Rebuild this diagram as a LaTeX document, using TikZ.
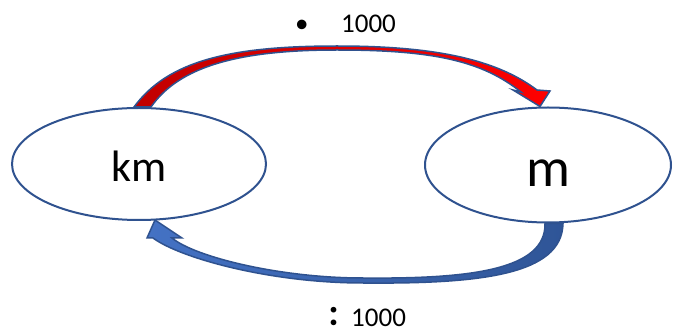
\documentclass[tikz,border=0pt]{standalone}
\usepackage{fontspec}
\setmainfont{Carlito}
\newfontfamily\cjkfont{Noto Sans CJK JP}
\usetikzlibrary{shapes.geometric,calc}
\definecolor{edgeblue}{HTML}{2F528F}
\definecolor{darkred}{HTML}{C00000}
\definecolor{brightred}{HTML}{FF0000}
\definecolor{lightblue}{HTML}{4472C4}
\definecolor{deepblue}{HTML}{2F5597}
\begin{document}
\begin{tikzpicture}[x=1pt,y=-1pt,
  unit/.style={ellipse, draw=edgeblue, line width=2pt, fill=white, inner sep=0pt, text=black},
  fwd/.style={draw=edgeblue, line width=1.5pt, line join=miter, left color=darkred, right color=brightred},
  bwd/.style={draw=edgeblue, line width=1.5pt, line join=miter, left color=lightblue, right color=deepblue},
  lbl/.style={font=\fontsize{27}{32}\selectfont, anchor=base west, inner sep=0pt}]
\useasboundingbox (0,0) rectangle (673,331);
\node[unit, minimum width=254pt, minimum height=112pt, font=\fontsize{44}{50}\selectfont, text height=36pt, text depth=0pt] (km) at (139,164) {km};
\node[unit, minimum width=246pt, minimum height=115pt, font=\fontsize{55}{60}\selectfont, text height=44pt, text depth=0pt] (m) at (548,165) {m};
% km -> m
\draw[fwd] ($(km.north)+(-5,0)$) .. controls (167,62) and (227,46) .. (337,46)
  .. controls (437,46) and (497,60) .. (537,90) -- (550,91) -- ($(m.north)+(-8,0)$)
  -- (513,90) -- (521,92) .. controls (483,62) and (437,50) .. (337,50)
  .. controls (237,50) and (179,67) .. ($(km.north)+(12,0)$) -- cycle;
% m -> km
\draw[bwd] ($(m.south)+(15,0)$) .. controls (562,275) and (480,284) .. (363,283)
  .. controls (270,283) and (180,258) .. (153,238) -- (147,238) -- ($(km.south)+(16,-1)$)
  -- (182,238) -- (172,238) .. controls (195,257) and (280,278) .. (363,278)
  .. controls (470,279) and (546,270) .. ($(m.south)+(-3,0)$) -- cycle;
\node[lbl] (toplbl) at (295,33) {\makebox[46pt][l]{•}1000};
\node[lbl] (botlbl) at (320,327) {\makebox[31pt][l]{\smash{\cjkfont\bfseries ：}}1000};
\end{tikzpicture}
\end{document}
